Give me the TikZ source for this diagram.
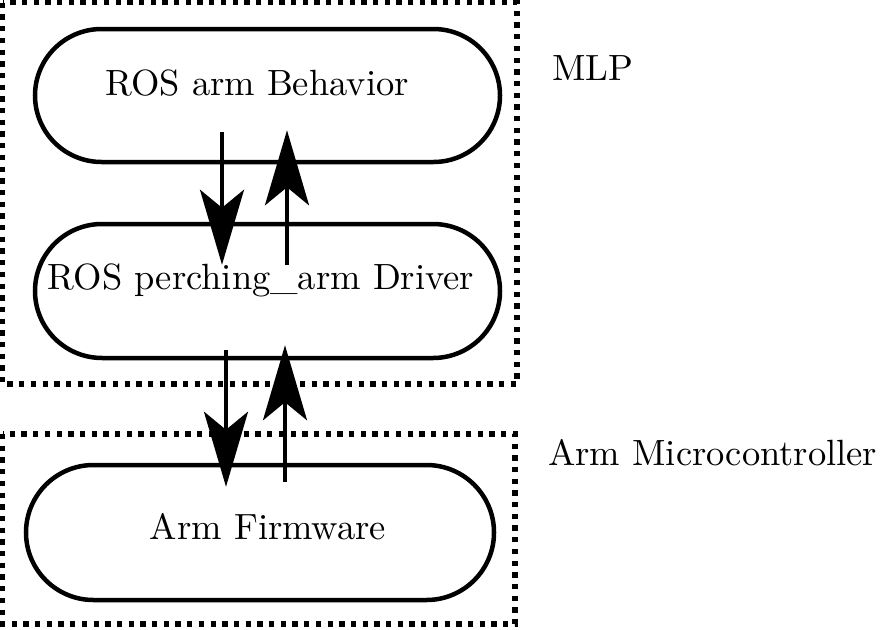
\documentclass[tikz,border=0pt]{standalone}
\usetikzlibrary{arrows.meta,shapes.misc}
\DeclareFontFamily{TU}{lmrten}{}
\DeclareFontShape{TU}{lmrten}{m}{n}{<-> "[lmroman10-regular]:mapping=tex-text"}{}
\begin{document}
\begin{tikzpicture}[x=1pt,y=1pt,
  dotbox/.style={line width=5.3pt, dash pattern=on 5.3pt off 6.4pt},
  stadium/.style={draw, line width=4.5pt, rounded rectangle, rounded rectangle arc length=180, inner sep=0pt},
  lbl/.style={inner sep=0pt, font=\fontfamily{lmrten}\fontsize{36.5}{44}\selectfont},
  arr/.style={line width=4pt, -{Stealth[length=75pt, width=44pt, inset=18pt]}}]
\useasboundingbox (0,0) rectangle (880,-629);
% containers
\draw[dotbox] (2.7,-2.7) rectangle (517,-384);
\draw[dotbox] (2.7,-434) rectangle (515,-624);
% nodes
\node[stadium, minimum width=465pt, minimum height=133pt] (beh) at (267.5,-95.5) {};
\node[stadium, minimum width=465pt, minimum height=134pt] (drv) at (267.5,-291) {};
\node[stadium, minimum width=468pt, minimum height=135pt] (fw) at (260,-532.5) {};
% texts
\node[lbl, anchor=base] (behT) at (257,-95) {ROS arm Behavior};
\node[lbl, anchor=base] (drvT) at (261,-289) {ROS perching\_arm Driver};
\node[lbl, anchor=base] (fwT) at (268,-539) {Arm Firmware};
\node[lbl, anchor=base west] (mlp) at (552,-80) {MLP};
\node[lbl, anchor=base west] (mcu) at (548,-465) {Arm Microcontroller};
% connectors
\draw[arr] ([xshift=-45.5pt,yshift=32pt]beh.south) -- ([xshift=-45.5pt,yshift=-43pt]drv.north);
\draw[arr] ([xshift=19.5pt,yshift=-43pt]drv.north) -- ([xshift=19.5pt,yshift=34pt]beh.south);
\draw[arr] ([xshift=-41.5pt,yshift=10pt]drv.south) -- ([xshift=-34pt,yshift=-24pt]fw.north);
\draw[arr] ([xshift=25pt,yshift=-19pt]fw.north) -- ([xshift=17.5pt,yshift=15pt]drv.south);
\end{tikzpicture}
\end{document}
